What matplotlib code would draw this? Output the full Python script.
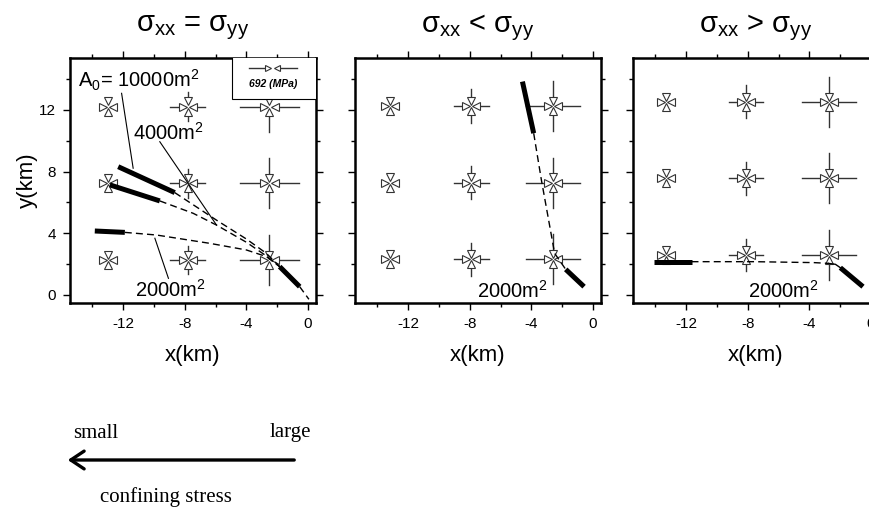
import numpy as np
import matplotlib.pyplot as plt
from matplotlib.patches import Rectangle, FancyArrowPatch

plt.rcParams['font.family'] = ['Liberation Sans', 'DejaVu Sans']
plt.rcParams['mathtext.fontset'] = 'custom'
plt.rcParams['mathtext.rm'] = 'Liberation Sans'
plt.rcParams['mathtext.it'] = 'Liberation Sans:italic'
plt.rcParams['mathtext.bf'] = 'Liberation Sans:bold'
plt.rcParams['axes.unicode_minus'] = False

titles = [r'σ$\mathregular{_{xx}}$ = σ$\mathregular{_{yy}}$',
          r'σ$\mathregular{_{xx}}$ < σ$\mathregular{_{yy}}$',
          r'σ$\mathregular{_{xx}}$ > σ$\mathregular{_{yy}}$']
xticks = [-12, -8, -4, 0]
yticks = [0, 4, 8, 12]

# stress symbol grid (km) and arm half-lengths per column
grid_x = [[-13.0, -7.8, -2.5], [-13.2, -7.9, -2.6], [-13.3, -8.1, -2.75]]
grid_y = [[2.27, 7.24, 12.22], [2.31, 7.29, 12.26], [2.59, 7.57, 12.54]]
arm_x = [[0.33, 1.14, 1.9], [0.33, 1.14, 1.73], [0.33, 1.1, 1.76]]
arm_y = [[0.33, 0.92, 1.62], [0.33, 1.08, 1.62], [0.33, 1.06, 1.62]]

# fault paths, panel 1
p1_thick_a_x = [-12.32, -8.65]
p1_thick_a_y = [8.32, 6.64]
p1_dash_a_x = [-8.65, -5.95, -4.0, -2.7, -1.84]
p1_dash_a_y = [6.64, 4.86, 3.63, 2.7, 1.84]
p1_thick_b_x = [-12.86, -9.62]
p1_thick_b_y = [7.14, 6.10]
p1_dash_b_x = [-9.62, -7.46, -5.95, -4.0, -2.7, -1.84]
p1_dash_b_y = [6.10, 5.30, 4.54, 3.42, 2.53, 1.84]
p1_thick_c_x = [-13.84, -11.89]
p1_thick_c_y = [4.15, 4.06]
p1_dash_c_x = [-11.89, -9.84, -6.38, -4.0, -2.7, -1.84]
p1_dash_c_y = [4.06, 3.89, 3.35, 2.92, 2.49, 1.84]
p1_end_x = [-1.84, -0.54]
p1_end_y = [1.84, 0.54]
p1_tail_x = [-0.54, 0.06]
p1_tail_y = [0.54, -0.28]

# panel 2
p2_thick_x = [-4.58, -3.85]
p2_thick_y = [13.84, 10.49]
p2_dash_x = [-3.85, -3.35, -2.92, -2.49, -1.77]
p2_dash_y = [10.49, 7.46, 5.08, 2.70, 1.66]
p2_end_x = [-1.77, -0.58]
p2_end_y = [1.66, 0.54]

# panel 3
p3_thick_x = [-14.1, -11.65]
p3_thick_y = [2.16, 2.16]
p3_dash_x = [-11.65, -7.61, -3.72, -2.75]
p3_dash_y = [2.16, 2.16, 2.10, 2.05]
p3_bend_x = [-2.75, -2.31, -1.99]
p3_bend_y = [2.05, 1.99, 1.77]
p3_end_x = [-1.99, -0.52]
p3_end_y = [1.77, 0.54]

fig = plt.figure(figsize=(8.7, 5.08), dpi=100)
lefts = [70, 355, 633]
axes = []
lc = '#333333'
for i in range(3):
    ax = fig.add_axes([lefts[i] / 870, 1 - 303 / 508, 246 / 870, 245 / 508])
    ax.set_xlim(-15.45, 0.52)
    ax.set_ylim(-0.52, 15.37)
    ax.set_xticks(xticks)
    ax.set_xticks([-14, -10, -6, -2], minor=True)
    ax.set_yticks(yticks)
    ax.set_yticks([2, 6, 10, 14], minor=True)
    ax.tick_params(which='both', direction='out', top=True, right=True,
                   width=1, labelsize=11, pad=5)
    ax.tick_params(which='major', length=5)
    ax.tick_params(which='minor', length=3)
    for s in ax.spines.values():
        s.set_linewidth(1.8)
    if i > 0:
        ax.set_yticklabels([])
    else:
        ax.set_ylabel('y(km)', fontsize=16, labelpad=1)
    ax.set_xlabel('x(km)', fontsize=16, labelpad=10)
    fig.text((lefts[i] + 123) / 870, 0.945, titles[i], fontsize=21,
             ha='center', va='center')

    # stress crosses
    d = 0.33
    for c in range(3):
        for r in range(3):
            cx = grid_x[i][c]
            cy = grid_y[i][r]
            hx = arm_x[i][c]
            hy = arm_y[i][c]
            ax.plot([cx - hx, cx - d], [cy, cy], color=lc, lw=1)
            ax.plot([cx + d, cx + hx], [cy, cy], color=lc, lw=1)
            ax.plot([cx, cx], [cy + d, cy + hy], color=lc, lw=1)
            ax.plot([cx, cx], [cy - hy, cy - d], color=lc, lw=1)
            for mk, px, py in [('>', cx - d, cy), ('<', cx + d, cy),
                               ('v', cx, cy + d), ('^', cx, cy - d)]:
                ax.plot(px, py, marker=mk, ms=5.5, mfc='white', mec=lc, mew=0.8)
    axes.append(ax)

dash = dict(color='black', lw=1, ls=(0, (5, 3)))
thick = dict(color='black', lw=3.6, solid_capstyle='butt')

ax = axes[0]
ax.plot(p1_dash_a_x, p1_dash_a_y, **dash)
ax.plot(p1_dash_b_x, p1_dash_b_y, **dash)
ax.plot(p1_dash_c_x, p1_dash_c_y, **dash)
ax.plot(p1_thick_a_x, p1_thick_a_y, **thick)
ax.plot(p1_thick_b_x, p1_thick_b_y, **thick)
ax.plot(p1_thick_c_x, p1_thick_c_y, **thick)
ax.plot(p1_end_x, p1_end_y, **thick)
ax.plot(p1_tail_x, p1_tail_y, **dash)
ax.text(-14.94, 13.94, r'$\mathregular{A_0}$= 10000m$\mathregular{^2}$', fontsize=14.5,
        ha='left', va='center')
ax.text(-11.36, 10.5, r'4000m$\mathregular{^2}$', fontsize=14.5, ha='left', va='center')
ax.text(-11.23, 0.32, r'2000m$\mathregular{^2}$', fontsize=14.5, ha='left', va='center')
ax.plot([-12.1, -11.35], [13.08, 8.22], color='black', lw=0.8)
ax.plot([-9.62, -5.94], [9.94, 4.54], color='black', lw=0.8)
ax.plot([-9.06, -9.94], [1.08, 3.68], color='black', lw=0.8)

# scale box
ax.add_patch(Rectangle((0.659, 0.833), 0.4, 0.2, transform=ax.transAxes,
                       facecolor='white', edgecolor='black', lw=0.8, zorder=5,
                       clip_on=True))
ax.plot([-3.85, -2.6], [14.72, 14.72], color=lc, lw=1, zorder=6)
ax.plot([-1.98, -0.73], [14.72, 14.72], color=lc, lw=1, zorder=6)
ax.plot(-2.6, 14.72, marker='>', ms=5, mfc='white', mec=lc, mew=0.8, zorder=7)
ax.plot(-1.98, 14.72, marker='<', ms=5, mfc='white', mec=lc, mew=0.8, zorder=7)
ax.text(-2.29, 13.68, '692 (MPa)', fontsize=7.5, fontweight='bold', style='italic',
        ha='center', va='center', zorder=7)

ax = axes[1]
ax.plot(p2_dash_x, p2_dash_y, **dash)
ax.plot(p2_thick_x, p2_thick_y, **thick)
ax.plot(p2_end_x, p2_end_y, **thick)
ax.text(-7.5, 0.3, r'2000m$\mathregular{^2}$', fontsize=14.5, ha='left', va='center')

ax = axes[2]
ax.plot(p3_dash_x, p3_dash_y, **dash)
ax.plot(p3_bend_x, p3_bend_y, color='black', lw=1)
ax.plot(p3_thick_x, p3_thick_y, **thick)
ax.plot(p3_end_x, p3_end_y, **thick)
ax.text(-7.96, 0.28, r'2000m$\mathregular{^2}$', fontsize=14.5, ha='left', va='center')

# confining stress arrow
fig.text(73 / 870, 1 - 433 / 508, 'small', family='Liberation Serif', fontsize=15,
         ha='left', va='center')
fig.text(311 / 870, 1 - 433 / 508, 'large', family='Liberation Serif', fontsize=15,
         ha='right', va='center')
fig.text(166 / 870, 1 - 497 / 508, 'confining stress', family='Liberation Serif',
         fontsize=15, ha='center', va='center')
fig.add_artist(FancyArrowPatch(
    (297 / 870, 1 - 460 / 508), (65 / 870, 1 - 460 / 508), transform=fig.transFigure,
    arrowstyle='->,head_length=6,head_width=4', lw=2.4, color='black',
    mutation_scale=1.6))

fig.savefig('out.png', dpi=100)
